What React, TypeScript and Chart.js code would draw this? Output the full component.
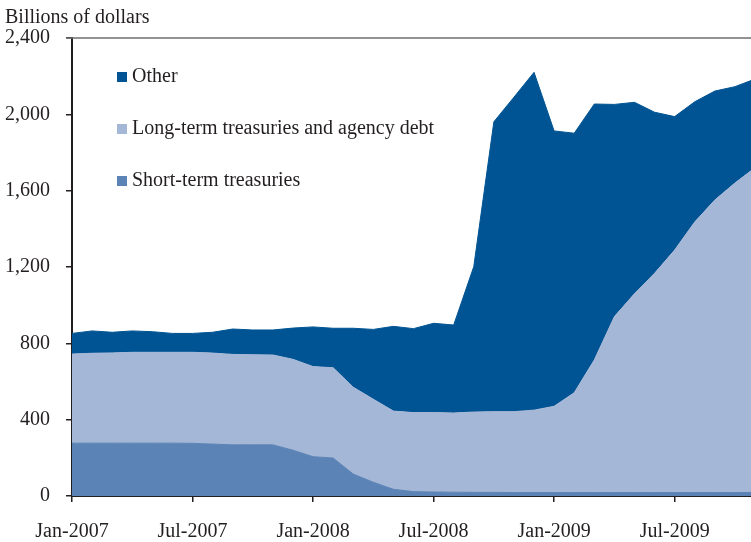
import React, { useEffect, useRef } from "react";
import { Chart, registerables } from "chart.js";

Chart.register(...registerables);

const months = [
  "Jan-2007", "Feb-2007", "Mar-2007", "Apr-2007", "May-2007", "Jun-2007",
  "Jul-2007", "Aug-2007", "Sep-2007", "Oct-2007", "Nov-2007", "Dec-2007",
  "Jan-2008", "Feb-2008", "Mar-2008", "Apr-2008", "May-2008", "Jun-2008",
  "Jul-2008", "Aug-2008", "Sep-2008", "Oct-2008", "Nov-2008", "Dec-2008",
  "Jan-2009", "Feb-2009", "Mar-2009", "Apr-2009", "May-2009", "Jun-2009",
  "Jul-2009", "Aug-2009", "Sep-2009", "Oct-2009", "Nov-2009",
];

const shortTerm = [
  277, 277, 277, 277, 277, 277, 276, 272, 268, 268, 268, 240,
  206, 199, 115, 72, 35, 23, 21, 20, 19, 19, 18, 18,
  18, 18, 18, 18, 18, 18, 18, 18, 18, 18, 18,
];

const longTerm = [
  467, 471, 473, 476, 476, 476, 477, 477, 474, 472, 471, 476,
  472, 473, 455, 435, 410, 414, 416, 415, 421, 423, 424, 432,
  452, 523, 695, 922, 1042, 1149, 1271, 1418, 1533, 1622, 1702,
];

const other = [
  108, 117, 108, 112, 108, 99, 99, 109, 133, 130, 131, 164,
  208, 207, 309, 366, 444, 440, 468, 461, 762, 1519, 1648, 1770,
  1443, 1360, 1341, 1112, 1003, 844, 699, 630, 571, 505, 465,
];

const seriesLabels = ["Short-term treasuries", "Long-term treasuries and agency debt", "Other"];
const seriesColors = ["#5B83B5", "#A5B7D6", "#005493"];
const yTicks = [0, 400, 800, 1200, 1600, 2000, 2400];
const yTitle = "Billions of dollars";

const FONT = "'Liberation Serif', 'Times New Roman', serif";
const TEXT = "#231f20";

export default function App() {
  const ref = useRef<HTMLCanvasElement | null>(null);

  useEffect(() => {
    if (!ref.current) return;
    const toXY = (arr: number[]) => arr.map((v, i) => ({ x: i, y: v }));
    const series = [shortTerm, longTerm, other];

    const frame = {
      id: "frame",
      afterDraw(chart: any) {
        const { ctx, chartArea } = chart;
        ctx.save();
        ctx.strokeStyle = "#6d6e71";
        ctx.lineWidth = 1.5;
        ctx.beginPath();
        ctx.moveTo(chartArea.left - 6, chartArea.top);
        ctx.lineTo(chartArea.right, chartArea.top);
        ctx.stroke();
        ctx.fillStyle = TEXT;
        ctx.font = `20px ${FONT}`;
        ctx.textBaseline = "middle";
        ctx.textAlign = "left";
        ctx.fillText(yTitle, 5, 18);
        // legend
        const order = [2, 1, 0];
        order.forEach((di, k) => {
          const ds = chart.data.datasets[di];
          const yc = 77 + k * 52;
          ctx.fillStyle = ds.backgroundColor;
          ctx.fillRect(chartArea.left + 45, yc - 5, 10, 10);
          ctx.fillStyle = TEXT;
          ctx.fillText(ds.label, chartArea.left + 60, yc);
        });
        ctx.restore();
      },
    };

    const chart = new Chart(ref.current, {
      type: "line",
      data: {
        datasets: series.map((s, i) => ({
          label: seriesLabels[i],
          data: toXY(s),
          backgroundColor: seriesColors[i],
          borderColor: seriesColors[i],
          borderWidth: 1,
          pointRadius: 0,
          tension: 0,
          fill: i === 0 ? "origin" : "-1",
        })),
      },
      options: {
        animation: false,
        responsive: false,
        maintainAspectRatio: false,
        layout: { padding: { top: 38, left: 0, right: 0, bottom: 0 } },
        plugins: {
          legend: { display: false },
          tooltip: { enabled: false },
          title: { display: false },
        },
        scales: {
          x: {
            type: "linear",
            min: 0,
            max: 33.8,
            afterBuildTicks: (axis: any) => {
              axis.ticks = months
                .map((m, i) => ({ value: i, m }))
                .filter((t) => /^(Jan|Jul)/.test(t.m))
                .map((t) => ({ value: t.value }));
            },
            afterFit: (scale: any) => {
              scale.height = 46;
            },
            ticks: {
              autoSkip: false,
              maxRotation: 0,
              padding: 18,
              color: TEXT,
              font: { family: FONT, size: 20 },
              callback: (v: any) => months[v as number] ?? "",
            },
            grid: {
              display: true,
              drawOnChartArea: false,
              drawTicks: true,
              tickLength: 6,
              tickColor: "#231f20",
              lineWidth: 1.5,
            },
            border: { display: true, color: "#231f20", width: 2 },
          },
          y: {
            stacked: true,
            min: 0,
            max: 2400,
            afterBuildTicks: (axis: any) => {
              axis.ticks = yTicks.map((v) => ({ value: v }));
            },
            afterFit: (scale: any) => {
              scale.width = 72;
            },
            ticks: {
              padding: 16,
              color: TEXT,
              font: { family: FONT, size: 20 },
              callback: (v: any) => Number(v).toLocaleString("en-US"),
            },
            grid: {
              display: true,
              drawOnChartArea: false,
              drawTicks: true,
              tickLength: 6,
              tickColor: "#231f20",
              lineWidth: 1.5,
            },
            border: { display: true, color: "#231f20", width: 2 },
          },
        },
      },
      plugins: [frame],
    });
    return () => chart.destroy();
  }, []);

  return (
    <div style={{ position: "absolute", left: 0, top: 0, width: 751, height: 542, background: "#fff" }}>
      <canvas ref={ref} width={751} height={542} style={{ width: 751, height: 542, display: "block" }} />
    </div>
  );
}
